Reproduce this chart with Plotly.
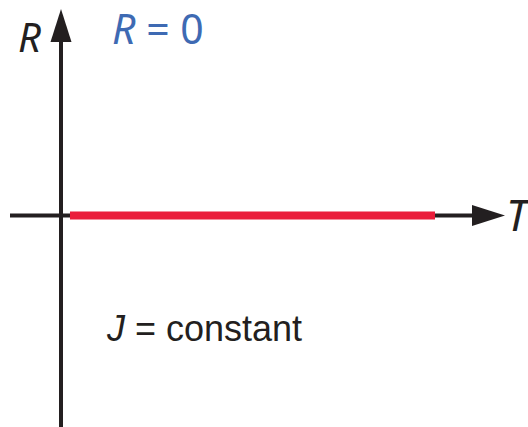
import plotly.graph_objects as go

# ---- data ----
T_values = [0.24, 10.0]      # temperature range of the R = 0 segment
R_values = [0.0, 0.0]        # resistance is zero
label_R0 = "<i>R</i> = 0"
label_J = "<i>J</i> = constant"
axis_label_x = "<i>T</i>"
axis_label_y = "<i>R</i>"

W, H = 528, 427
# pixel geometry of the axes origin and scale
X0_PX, Y0_PX = 61.0, 215.5
KX, KY = 37.4, 40.0
x_range = [(0 - X0_PX) / KX, (W - X0_PX) / KX]
y_range = [(Y0_PX - H) / KY, (Y0_PX - 0) / KY]


def dx(px):
    return (px - X0_PX) / KX


def dy(py):
    return (Y0_PX - py) / KY


AX = "#231f20"
RED = "#ea1d3b"
BLUE = "#3e6ab3"

fig = go.Figure()
fig.add_trace(go.Scatter(x=T_values, y=R_values, mode="lines",
                         line=dict(color=RED, width=8), hoverinfo="skip",
                         showlegend=False))

shapes = [
    # horizontal axis
    dict(type="line", xref="x", yref="y", x0=dx(10), y0=0, x1=dx(476), y1=0,
         line=dict(color=AX, width=4), layer="below"),
    # vertical axis
    dict(type="line", xref="x", yref="y", x0=0, y0=dy(430), x1=0, y1=dy(38),
         line=dict(color=AX, width=4), layer="below"),
    # right arrowhead
    dict(type="path", xref="x", yref="y",
         path=f"M {dx(472)} {dy(205)} L {dx(505)} {dy(215.5)} L {dx(472)} {dy(226)} Z",
         fillcolor=AX, line=dict(color=AX, width=0)),
    # up arrowhead
    dict(type="path", xref="x", yref="y",
         path=f"M {dx(50.5)} {dy(42)} L {dx(61)} {dy(9)} L {dx(71.5)} {dy(42)} Z",
         fillcolor=AX, line=dict(color=AX, width=0)),
]


def ann(text, px, py, size, color, family):
    return dict(text=text, x=px / W, y=1 - py / H, xref="paper", yref="paper",
                xanchor="center", yanchor="middle", showarrow=False,
                font=dict(size=size, color=color, family=family))


annotations = [
    ann(axis_label_y, 29, 37, 40, AX, "Noto Sans"),
    ann(label_R0, 158, 28, 41, BLUE, "Noto Sans"),
    ann(axis_label_x, 519, 214, 44, AX, "Noto Sans"),
    ann(label_J, 204, 328, 36, AX, "Liberation Sans"),
]

fig.update_layout(
    width=W, height=H,
    margin=dict(l=0, r=0, t=0, b=0),
    paper_bgcolor="white", plot_bgcolor="white",
    xaxis=dict(range=x_range, visible=False, fixedrange=True),
    yaxis=dict(range=y_range, visible=False, fixedrange=True),
    shapes=shapes, annotations=annotations,
    showlegend=False,
)

fig.write_html("out.html", config={"displayModeBar": False},
               post_script="document.body.style.margin='0px';document.body.style.overflow='hidden';")
